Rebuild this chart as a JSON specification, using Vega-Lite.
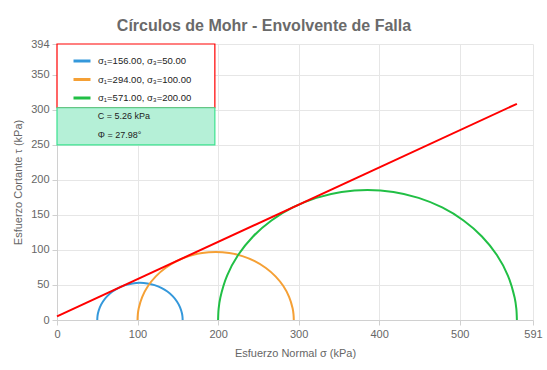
{
  "$schema": "https://vega.github.io/schema/vega-lite/v6.json",
  "width": 476,
  "height": 276,
  "autosize": {"type": "none"},
  "padding": {"left": 57, "top": 44, "right": 14, "bottom": 50},
  "background": "white",
  "title": {
    "text": "Círculos de Mohr - Envolvente de Falla",
    "fontSize": 16,
    "fontWeight": "bold",
    "font": "Liberation Sans",
    "color": "#6a6a6a",
    "anchor": "middle",
    "frame": "group",
    "dx": -31,
    "offset": 4
  },
  "datasets": {
    "circles": [
      {"serie": "σ₁=156.00, σ₃=50.00", "i": 0, "sigma": 156, "tau": 0},
      {"serie": "σ₁=156.00, σ₃=50.00", "i": 1, "sigma": 155.8, "tau": 4.62},
      {"serie": "σ₁=156.00, σ₃=50.00", "i": 2, "sigma": 155.19, "tau": 9.2},
      {"serie": "σ₁=156.00, σ₃=50.00", "i": 3, "sigma": 152.8, "tau": 18.13},
      {"serie": "σ₁=156.00, σ₃=50.00", "i": 4, "sigma": 148.9, "tau": 26.5},
      {"serie": "σ₁=156.00, σ₃=50.00", "i": 5, "sigma": 143.6, "tau": 34.07},
      {"serie": "σ₁=156.00, σ₃=50.00", "i": 6, "sigma": 137.07, "tau": 40.6},
      {"serie": "σ₁=156.00, σ₃=50.00", "i": 7, "sigma": 129.5, "tau": 45.9},
      {"serie": "σ₁=156.00, σ₃=50.00", "i": 8, "sigma": 121.13, "tau": 49.8},
      {"serie": "σ₁=156.00, σ₃=50.00", "i": 9, "sigma": 112.2, "tau": 52.19},
      {"serie": "σ₁=156.00, σ₃=50.00", "i": 10, "sigma": 103, "tau": 53},
      {"serie": "σ₁=156.00, σ₃=50.00", "i": 11, "sigma": 93.8, "tau": 52.19},
      {"serie": "σ₁=156.00, σ₃=50.00", "i": 12, "sigma": 84.87, "tau": 49.8},
      {"serie": "σ₁=156.00, σ₃=50.00", "i": 13, "sigma": 76.5, "tau": 45.9},
      {"serie": "σ₁=156.00, σ₃=50.00", "i": 14, "sigma": 68.93, "tau": 40.6},
      {"serie": "σ₁=156.00, σ₃=50.00", "i": 15, "sigma": 62.4, "tau": 34.07},
      {"serie": "σ₁=156.00, σ₃=50.00", "i": 16, "sigma": 57.1, "tau": 26.5},
      {"serie": "σ₁=156.00, σ₃=50.00", "i": 17, "sigma": 53.2, "tau": 18.13},
      {"serie": "σ₁=156.00, σ₃=50.00", "i": 18, "sigma": 50.81, "tau": 9.2},
      {"serie": "σ₁=156.00, σ₃=50.00", "i": 19, "sigma": 50.2, "tau": 4.62},
      {"serie": "σ₁=156.00, σ₃=50.00", "i": 20, "sigma": 50, "tau": 0},
      {"serie": "σ₁=294.00, σ₃=100.00", "i": 0, "sigma": 294, "tau": 0},
      {"serie": "σ₁=294.00, σ₃=100.00", "i": 1, "sigma": 293.63, "tau": 8.46},
      {"serie": "σ₁=294.00, σ₃=100.00", "i": 2, "sigma": 292.53, "tau": 16.84},
      {"serie": "σ₁=294.00, σ₃=100.00", "i": 3, "sigma": 288.15, "tau": 33.17},
      {"serie": "σ₁=294.00, σ₃=100.00", "i": 4, "sigma": 281.0, "tau": 48.5},
      {"serie": "σ₁=294.00, σ₃=100.00", "i": 5, "sigma": 271.3, "tau": 62.35},
      {"serie": "σ₁=294.00, σ₃=100.00", "i": 6, "sigma": 259.35, "tau": 74.3},
      {"serie": "σ₁=294.00, σ₃=100.00", "i": 7, "sigma": 245.5, "tau": 84.0},
      {"serie": "σ₁=294.00, σ₃=100.00", "i": 8, "sigma": 230.17, "tau": 91.15},
      {"serie": "σ₁=294.00, σ₃=100.00", "i": 9, "sigma": 213.84, "tau": 95.53},
      {"serie": "σ₁=294.00, σ₃=100.00", "i": 10, "sigma": 197, "tau": 97},
      {"serie": "σ₁=294.00, σ₃=100.00", "i": 11, "sigma": 180.16, "tau": 95.53},
      {"serie": "σ₁=294.00, σ₃=100.00", "i": 12, "sigma": 163.83, "tau": 91.15},
      {"serie": "σ₁=294.00, σ₃=100.00", "i": 13, "sigma": 148.5, "tau": 84.0},
      {"serie": "σ₁=294.00, σ₃=100.00", "i": 14, "sigma": 134.65, "tau": 74.3},
      {"serie": "σ₁=294.00, σ₃=100.00", "i": 15, "sigma": 122.7, "tau": 62.35},
      {"serie": "σ₁=294.00, σ₃=100.00", "i": 16, "sigma": 113.0, "tau": 48.5},
      {"serie": "σ₁=294.00, σ₃=100.00", "i": 17, "sigma": 105.85, "tau": 33.17},
      {"serie": "σ₁=294.00, σ₃=100.00", "i": 18, "sigma": 101.47, "tau": 16.84},
      {"serie": "σ₁=294.00, σ₃=100.00", "i": 19, "sigma": 100.37, "tau": 8.46},
      {"serie": "σ₁=294.00, σ₃=100.00", "i": 20, "sigma": 100, "tau": 0},
      {"serie": "σ₁=571.00, σ₃=200.00", "i": 0, "sigma": 571, "tau": 0},
      {"serie": "σ₁=571.00, σ₃=200.00", "i": 1, "sigma": 570.3, "tau": 16.17},
      {"serie": "σ₁=571.00, σ₃=200.00", "i": 2, "sigma": 568.18, "tau": 32.2},
      {"serie": "σ₁=571.00, σ₃=200.00", "i": 3, "sigma": 559.81, "tau": 63.44},
      {"serie": "σ₁=571.00, σ₃=200.00", "i": 4, "sigma": 546.14, "tau": 92.75},
      {"serie": "σ₁=571.00, σ₃=200.00", "i": 5, "sigma": 527.59, "tau": 119.24},
      {"serie": "σ₁=571.00, σ₃=200.00", "i": 6, "sigma": 504.74, "tau": 142.09},
      {"serie": "σ₁=571.00, σ₃=200.00", "i": 7, "sigma": 478.25, "tau": 160.64},
      {"serie": "σ₁=571.00, σ₃=200.00", "i": 8, "sigma": 448.94, "tau": 174.31},
      {"serie": "σ₁=571.00, σ₃=200.00", "i": 9, "sigma": 417.7, "tau": 182.68},
      {"serie": "σ₁=571.00, σ₃=200.00", "i": 10, "sigma": 385.5, "tau": 185.5},
      {"serie": "σ₁=571.00, σ₃=200.00", "i": 11, "sigma": 353.3, "tau": 182.68},
      {"serie": "σ₁=571.00, σ₃=200.00", "i": 12, "sigma": 322.06, "tau": 174.31},
      {"serie": "σ₁=571.00, σ₃=200.00", "i": 13, "sigma": 292.75, "tau": 160.64},
      {"serie": "σ₁=571.00, σ₃=200.00", "i": 14, "sigma": 266.26, "tau": 142.09},
      {"serie": "σ₁=571.00, σ₃=200.00", "i": 15, "sigma": 243.41, "tau": 119.24},
      {"serie": "σ₁=571.00, σ₃=200.00", "i": 16, "sigma": 224.86, "tau": 92.75},
      {"serie": "σ₁=571.00, σ₃=200.00", "i": 17, "sigma": 211.19, "tau": 63.44},
      {"serie": "σ₁=571.00, σ₃=200.00", "i": 18, "sigma": 202.82, "tau": 32.2},
      {"serie": "σ₁=571.00, σ₃=200.00", "i": 19, "sigma": 200.7, "tau": 16.17},
      {"serie": "σ₁=571.00, σ₃=200.00", "i": 20, "sigma": 200, "tau": 0}
    ],
    "envelope": [
      {"sigma": 0, "tau": 5.26},
      {"sigma": 571, "tau": 308.61}
    ]
  },
  "encoding": {
    "x": {
      "field": "sigma", "type": "quantitative",
      "scale": {"domain": [0, 591], "nice": false, "zero": false},
      "axis": {"title": "Esfuerzo Normal σ (kPa)", "values": [0, 100, 200, 300, 400, 500, 591], "labelFlush": false, "titlePadding": 8}
    },
    "y": {
      "field": "tau", "type": "quantitative",
      "scale": {"domain": [0, 394], "nice": false, "zero": false},
      "axis": {"title": "Esfuerzo Cortante τ (kPa)", "values": [0, 50, 100, 150, 200, 250, 300, 350, 394], "titlePadding": 7}
    }
  },
  "layer": [
    {
      "data": {"name": "envelope"},
      "mark": {"type": "rect", "fill": "white", "stroke": "#ff0000", "strokeWidth": 1.2},
      "encoding": {
        "x": {"datum": 0, "type": "quantitative"},
        "x2": {"datum": 196},
        "y": {"datum": 303, "type": "quantitative"},
        "y2": {"datum": 394}
      },
      "transform": [{"filter": "datum.sigma == 0"}]
    },
    {
      "data": {"name": "envelope"},
      "mark": {"type": "rect", "fill": "#b5f0d7", "stroke": "#3be28f", "strokeWidth": 1.2},
      "encoding": {
        "x": {"datum": 0, "type": "quantitative"},
        "x2": {"datum": 196},
        "y": {"datum": 250, "type": "quantitative"},
        "y2": {"datum": 303}
      },
      "transform": [{"filter": "datum.sigma == 0"}]
    },
    {
      "data": {"name": "envelope"},
      "mark": {"type": "text", "align": "left", "baseline": "middle", "fontSize": 9, "font": "Liberation Sans", "color": "#222222", "text": "C = 5.26 kPa"},
      "encoding": {
        "x": {"datum": 50.7, "type": "quantitative"},
        "y": {"datum": 291, "type": "quantitative"}
      },
      "transform": [{"filter": "datum.sigma == 0"}]
    },
    {
      "data": {"name": "envelope"},
      "mark": {"type": "text", "align": "left", "baseline": "middle", "fontSize": 9, "font": "Liberation Sans", "color": "#222222", "text": "Φ = 27.98°"},
      "encoding": {
        "x": {"datum": 50.7, "type": "quantitative"},
        "y": {"datum": 264, "type": "quantitative"}
      },
      "transform": [{"filter": "datum.sigma == 0"}]
    },
    {
      "data": {"name": "circles"},
      "mark": {"type": "line", "strokeWidth": 2, "interpolate": "catmull-rom"},
      "encoding": {
        "order": {"field": "i", "type": "quantitative"},
        "color": {
          "field": "serie", "type": "nominal",
          "scale": {"domain": ["σ₁=156.00, σ₃=50.00", "σ₁=294.00, σ₃=100.00", "σ₁=571.00, σ₃=200.00"], "range": ["#3498db", "#f5a035", "#21bf45"]},
          "legend": {"title": null}
        }
      }
    },
    {
      "data": {"name": "envelope"},
      "mark": {"type": "line", "strokeWidth": 2, "color": "#ff0000"},
      "encoding": {}
    }
  ],
  "config": {
    "view": {"stroke": null},
    "font": "Liberation Sans",
    "axis": {
      "labelColor": "#666666",
      "labelFontSize": 11,
      "labelFont": "Liberation Sans",
      "titleColor": "#666666",
      "titleFontSize": 11,
      "titleFont": "Liberation Sans",
      "titleFontWeight": "normal",
      "gridColor": "#e6e6e6",
      "domainColor": "#d0d0d0",
      "tickColor": "#d0d0d0",
      "tickSize": 5,
      "labelPadding": 3
    },
    "legend": {
      "orient": "top-left",
      "offset": 4,
      "padding": 3,
      "symbolType": "stroke",
      "symbolSize": 289,
      "symbolStrokeWidth": 3,
      "symbolOffset": 8,
      "labelFontSize": 9.5,
      "labelFont": "Liberation Sans",
      "labelColor": "#222222",
      "labelOffset": 6,
      "rowPadding": 2.5
    }
  }
}
